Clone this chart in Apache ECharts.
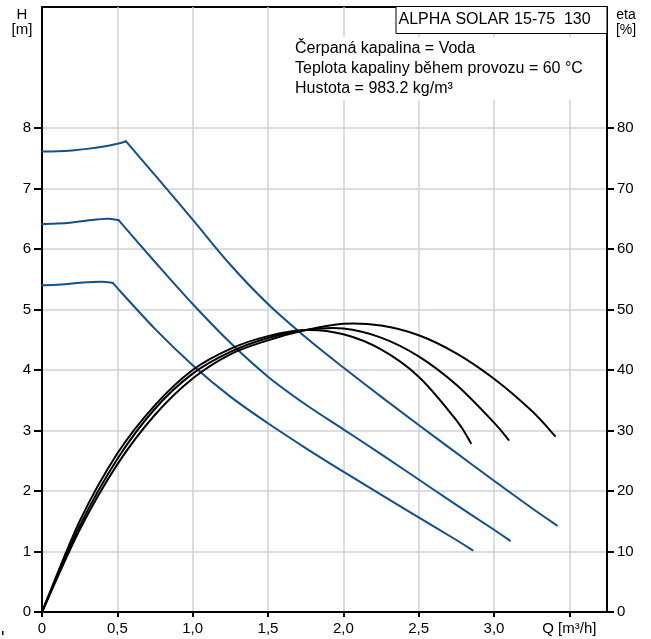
<!DOCTYPE html>
<html><head><meta charset="utf-8">
<script src="https://cdn.jsdelivr.net/npm/echarts@6/dist/echarts.min.js"></script>
<style>html,body{margin:0;padding:0;background:#fff}#c{width:651px;height:639px}</style>
</head><body><div id="c"></div>
<script>
// Head curves H [m] vs Q [m3/h]
const headSpeed3 = [[0,7.61],[0.1,7.615],[0.2,7.63],[0.3,7.655],[0.4,7.69],[0.5,7.74],[0.558,7.78],[0.75,7.22],[1.0,6.485],[1.25,5.74],[1.5,5.09],[1.75,4.54],[2.0,4.04],[2.25,3.56],[2.5,3.09],[2.75,2.63],[3.0,2.17],[3.25,1.72],[3.418,1.43]];
const headSpeed2 = [[0,6.41],[0.1,6.42],[0.2,6.44],[0.3,6.47],[0.43,6.50],[0.507,6.48],[0.75,5.785],[1.0,5.09],[1.25,4.45],[1.5,3.89],[1.75,3.43],[2.0,3.02],[2.25,2.61],[2.5,2.19],[2.75,1.77],[3.0,1.36],[3.106,1.18]];
const headSpeed1 = [[0,5.40],[0.1,5.41],[0.2,5.43],[0.3,5.45],[0.397,5.46],[0.469,5.44],[0.75,4.68],[1.0,4.08],[1.25,3.56],[1.5,3.12],[1.75,2.71],[2.0,2.32],[2.25,1.94],[2.5,1.565],[2.75,1.19],[2.858,1.02]];
const headKinkQ = [0.469, 0.507, 0.558];
// Efficiency curves eta [%] vs Q [m3/h]
const etaSpeed1 = [[0,0],[0.25,15.0],[0.5,26.2],[0.75,34.2],[1.0,40.0],[1.25,43.5],[1.5,45.6],[1.75,46.6],[2.0,45.9],[2.25,43.4],[2.5,38.9],[2.75,31.7],[2.847,27.9]];
const etaSpeed2 = [[0,0],[0.25,14.2],[0.5,25.3],[0.75,33.6],[1.0,39.4],[1.25,43.0],[1.5,45.3],[1.75,46.6],[2.0,46.85],[2.25,45.35],[2.5,42.25],[2.75,37.55],[3.0,31.3],[3.097,28.45]];
const etaSpeed3 = [[0,0],[0.25,13.6],[0.5,24.4],[0.75,32.6],[1.0,38.6],[1.25,42.6],[1.5,44.9],[1.75,46.6],[2.0,47.65],[2.25,47.35],[2.5,45.75],[2.75,42.75],[3.0,38.55],[3.25,33.25],[3.405,29.1]];
// Tick labels
const xTickValues = [0,0.5,1,1.5,2,2.5,3,3.5];
const xTickLabels = ['0','0,5','1,0','1,5','2,0','2,5','3,0','Q [m³/h]'];
const hTickValues = [0,1,2,3,4,5,6,7,8];
const etaTickValues = [0,10,20,30,40,50,60,70,80];
const titleText = 'ALPHA SOLAR 15-75  130';
const infoLines = ['Čerpaná kapalina = Voda','Teplota kapaliny během provozu = 60 °C','Hustota = 983.2 kg/m³'];

const FONT = 'Liberation Sans, Arial, sans-serif';
const BLUE = '#134f8c';
const GRID = '#cfd2d6';
const chart = echarts.init(document.getElementById('c'), null, {renderer:'canvas'});

// Curve drawn through the data points (Catmull-Rom), positioned with the axes' own scales via api.coord
function curveSeries(name, data, color, yIdx, z) {
  return {name, type:'custom', coordinateSystem:'cartesian2d', xAxisIndex:0, yAxisIndex:yIdx, data, z, silent:true, animation:false,
    encode:{x:0, y:1},
    renderItem:(params, api) => {
      if (params.dataIndex !== 0) return null;
      const pts = data.map(p => api.coord(p));
      let d = 'M' + pts[0][0] + ' ' + pts[0][1];
      for (let i = 0; i < pts.length - 1; i++) {
        const p0 = pts[Math.max(i-1, 0)], p1 = pts[i], p2 = pts[i+1], p3 = pts[Math.min(i+2, pts.length-1)];
        const c1x = p1[0] + (p2[0]-p0[0])/6, c1y = p1[1] + (p2[1]-p0[1])/6;
        const c2x = p2[0] - (p3[0]-p1[0])/6, c2y = p2[1] - (p3[1]-p1[1])/6;
        d += ' C' + c1x + ' ' + c1y + ' ' + c2x + ' ' + c2y + ' ' + p2[0] + ' ' + p2[1];
      }
      return {type:'path', shape:{pathData:d}, style:{stroke:color, lineWidth:2, fill:'none', lineJoin:'round', lineCap:'round'}};
    }};
}
const headCurves = [headSpeed1, headSpeed2, headSpeed3];
const headSeries = [];
headCurves.forEach((d, i) => {
  const k = headKinkQ[i];
  headSeries.push(curveSeries('Hflat'+i, d.filter(p => p[0] <= k), BLUE, 0, 2));
  headSeries.push(curveSeries('Hfall'+i, d.filter(p => p[0] >= k), BLUE, 0, 2));
});
const etaSeries = [etaSpeed1, etaSpeed2, etaSpeed3].map((d, i) => curveSeries('eta'+i, d, '#000', 1, 3));

chart.setOption({
  animation:false,
  backgroundColor:'#fff',
  grid:{left:42, right:44, top:7, bottom:27, show:true, borderColor:'#000', borderWidth:2, backgroundColor:'transparent', containLabel:false, outerBoundsMode:'none'},
  xAxis:{type:'value', min:0, max:3.75, interval:0.5,
    axisLine:{show:true, onZero:false, lineStyle:{color:'#000', width:2}},
    axisTick:{show:true, length:5, customValues:xTickValues, lineStyle:{color:'#000', width:2}},
    axisLabel:{customValues:xTickValues, margin:9, color:'#000', fontFamily:FONT, fontSize:15,
      formatter:(v)=>{const i = xTickValues.findIndex(t=>Math.abs(t-v)<1e-6); return i>=0 ? xTickLabels[i] : '';}},
    splitLine:{show:true, lineStyle:{color:GRID, width:1.5}}},
  yAxis:[
    {type:'value', min:0, max:10, interval:1, position:'left',
      axisLine:{show:true, onZero:false, lineStyle:{color:'#000', width:2}},
      axisTick:{show:true, length:8, customValues:hTickValues, lineStyle:{color:'#000', width:2}},
      axisLabel:{customValues:hTickValues, margin:11, color:'#000', fontFamily:FONT, fontSize:15},
      splitLine:{show:true, lineStyle:{color:GRID, width:1.5}}},
    {type:'value', min:0, max:100, interval:10, position:'right',
      axisLine:{show:true, onZero:false, lineStyle:{color:'#000', width:2}},
      axisTick:{show:true, length:7, customValues:etaTickValues, lineStyle:{color:'#000', width:2}},
      axisLabel:{customValues:etaTickValues, margin:10, color:'#000', fontFamily:FONT, fontSize:15},
      splitLine:{show:false}}
  ],
  graphic:[
    {type:'rect', z:100, shape:{x:293, y:37, width:294, height:63}, style:{fill:'#fff'}},
    {type:'text', z:101, x:295, y:39, style:{text:infoLines.join('\n'), font:'16px '+FONT, fill:'#000', lineHeight:20}},
    {type:'rect', z:100, shape:{x:396, y:6.5, width:211, height:27}, style:{fill:'#fff', stroke:'#000', lineWidth:1}},
    {type:'text', z:101, x:398.5, y:19.5, style:{text:titleText, font:'16px '+FONT, fill:'#000', textVerticalAlign:'middle'}},
    {type:'text', z:101, x:22, y:15, style:{text:'H', font:'15px '+FONT, fill:'#000', textAlign:'center', textVerticalAlign:'middle'}},
    {type:'text', z:101, x:22, y:30, style:{text:'[m]', font:'15px '+FONT, fill:'#000', textAlign:'center', textVerticalAlign:'middle'}},
    {type:'text', z:101, x:626, y:15, style:{text:'eta', font:'14px '+FONT, fill:'#000', textAlign:'center', textVerticalAlign:'middle'}},
    {type:'text', z:101, x:626, y:30, style:{text:'[%]', font:'14px '+FONT, fill:'#000', textAlign:'center', textVerticalAlign:'middle'}},
    {type:'rect', z:101, shape:{x:2, y:631, width:1.5, height:4}, style:{fill:'#000'}}
  ],
  series: headSeries.concat(etaSeries)
});
</script></body></html>
